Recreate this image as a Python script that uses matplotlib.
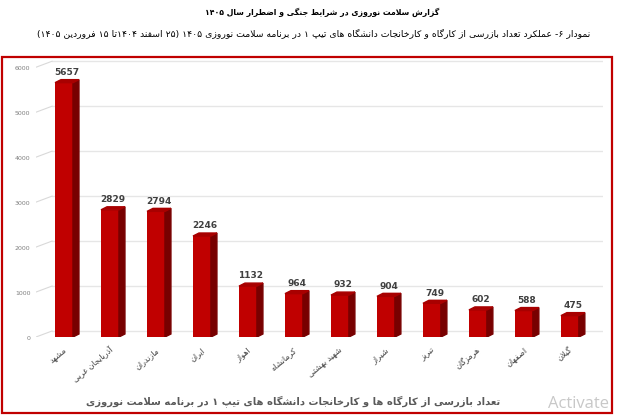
import matplotlib
matplotlib.use('Agg')
import matplotlib.pyplot as plt
from matplotlib.patches import Polygon, Rectangle

# data
cities = ['مشهد', 'آذربایجان غربی', 'مازندران', 'ایران', 'اهواز', 'کرمانشاه',
          'شهید بهشتی', 'شیراز', 'تبریز', 'هرمزگان', 'اصفهان', 'گیلان']
inspections = [5657, 2829, 2794, 2246, 1132, 964, 932, 904, 749, 602, 588, 475]
y_ticks = [0, 1000, 2000, 3000, 4000, 5000, 6000]

title = 'گزارش سلامت نوروزی در شرایط جنگی و اضطرار سال ۱۴۰۵'
subtitle = ('نمودار ۶- عملکرد تعداد بازرسی از کارگاه و کارخانجات دانشگاه های تیپ ۱ '
            'در برنامه سلامت نوروزی ۱۴۰۵ (۲۵ اسفند ۱۴۰۴تا ۱۵ فروردین ۱۴۰۵)')
caption = 'تعداد بازرسی از کارگاه ها و کارخانجات دانشگاه های تیپ ۱ در برنامه سلامت نوروزی'


# --- tiny persian shaper, matplotlib has no arabic shaping / bidi ---
# letter: (isolated, final, initial, medial)
FORMS = {
    'ا': ('\uFE8D', '\uFE8E', None, None),
    'آ': ('\uFE81', '\uFE82', None, None),
    'ب': ('\uFE8F', '\uFE90', '\uFE91', '\uFE92'),
    'پ': ('\uFB56', '\uFB57', '\uFB58', '\uFB59'),
    'ت': ('\uFE95', '\uFE96', '\uFE97', '\uFE98'),
    'ث': ('\uFE99', '\uFE9A', '\uFE9B', '\uFE9C'),
    'ج': ('\uFE9D', '\uFE9E', '\uFE9F', '\uFEA0'),
    'چ': ('\uFB7A', '\uFB7B', '\uFB7C', '\uFB7D'),
    'ح': ('\uFEA1', '\uFEA2', '\uFEA3', '\uFEA4'),
    'خ': ('\uFEA5', '\uFEA6', '\uFEA7', '\uFEA8'),
    'د': ('\uFEA9', '\uFEAA', None, None),
    'ذ': ('\uFEAB', '\uFEAC', None, None),
    'ر': ('\uFEAD', '\uFEAE', None, None),
    'ز': ('\uFEAF', '\uFEB0', None, None),
    'ژ': ('\uFB8A', '\uFB8B', None, None),
    'س': ('\uFEB1', '\uFEB2', '\uFEB3', '\uFEB4'),
    'ش': ('\uFEB5', '\uFEB6', '\uFEB7', '\uFEB8'),
    'ص': ('\uFEB9', '\uFEBA', '\uFEBB', '\uFEBC'),
    'ض': ('\uFEBD', '\uFEBE', '\uFEBF', '\uFEC0'),
    'ط': ('\uFEC1', '\uFEC2', '\uFEC3', '\uFEC4'),
    'ظ': ('\uFEC5', '\uFEC6', '\uFEC7', '\uFEC8'),
    'ع': ('\uFEC9', '\uFECA', '\uFECB', '\uFECC'),
    'غ': ('\uFECD', '\uFECE', '\uFECF', '\uFED0'),
    'ف': ('\uFED1', '\uFED2', '\uFED3', '\uFED4'),
    'ق': ('\uFED5', '\uFED6', '\uFED7', '\uFED8'),
    'ک': ('\uFB8E', '\uFB8F', '\uFB90', '\uFB91'),
    'گ': ('\uFB92', '\uFB93', '\uFB94', '\uFB95'),
    'ل': ('\uFEDD', '\uFEDE', '\uFEDF', '\uFEE0'),
    'م': ('\uFEE1', '\uFEE2', '\uFEE3', '\uFEE4'),
    'ن': ('\uFEE5', '\uFEE6', '\uFEE7', '\uFEE8'),
    'و': ('\uFEED', '\uFEEE', None, None),
    'ه': ('\uFEE9', '\uFEEA', '\uFEEB', '\uFEEC'),
    'ی': ('\uFBFC', '\uFBFD', '\uFBFE', '\uFBFF'),
}
LAM_ALEF = {'ا': ('\uFEFB', '\uFEFC'), 'آ': ('\uFEF5', '\uFEF6')}
LTR_CHARS = set('0123456789۰۱۲۳۴۵۶۷۸۹')
MIRROR = {'(': ')', ')': '('}


def shape(text):
    out = []
    i = 0
    n = len(text)
    while i < n:
        c = text[i]
        if c not in FORMS:
            out.append(c)
            i += 1
            continue
        prev = text[i - 1] if i > 0 else ''
        joins_prev = prev in FORMS and FORMS[prev][2] is not None
        nxt = text[i + 1] if i + 1 < n else ''
        if c == 'ل' and nxt in LAM_ALEF:
            out.append(LAM_ALEF[nxt][1 if joins_prev else 0])
            i += 2
            continue
        joins_next = nxt in FORMS and FORMS[c][2] is not None
        iso, fin, ini, med = FORMS[c]
        if joins_prev and joins_next:
            out.append(med)
        elif joins_prev:
            out.append(fin)
        elif joins_next:
            out.append(ini)
        else:
            out.append(iso)
        i += 1
    # visual order: reverse, but keep digit runs left to right
    runs = []
    for ch in out:
        if ch in LTR_CHARS and runs and runs[-1][0] in LTR_CHARS:
            runs[-1] += ch
        else:
            runs.append(MIRROR.get(ch, ch))
    return ''.join(reversed(runs))


plt.rcParams['font.family'] = ['DejaVu Sans']

fig = plt.figure(figsize=(6.23, 4.16), dpi=100)
ax = fig.add_axes([36 / 623, 79 / 416, 567 / 623, 281 / 416])
ax.set_xlim(-0.609, 11.72)
ax.set_ylim(0, 6250)
ax.axis('off')

x = list(range(len(cities)))
w = 0.39
side_dx, side_dy = 0.13, 67      # visible depth of the bars
wall_dx, wall_dy = 0.348, 133    # back wall offset of the 3d box
x0, x1 = ax.get_xlim()

for v in y_ticks:
    ax.plot([x0 + wall_dx, x1], [v + wall_dy, v + wall_dy], color='#e6e6e6', lw=1, zorder=1)
    ax.plot([x0, x0 + wall_dx], [v, v + wall_dy], color='#d9d9d9', lw=0.8, zorder=1)
    ax.annotate(str(v), (x0, v), xytext=(-4, -1), textcoords='offset points',
                ha='right', va='center', fontsize=4.5, color='#7f7f7f')

ax.bar(x, inspections, width=w, color='#c00000', zorder=3)
for i, v in zip(x, inspections):
    xr = i + w / 2
    xl = i - w / 2
    ax.add_patch(Polygon([(xr, 0), (xr + side_dx, side_dy), (xr + side_dx, v + side_dy), (xr, v)],
                         closed=True, color='#780000', zorder=3))
    ax.add_patch(Polygon([(xl, v), (xr, v), (xr + side_dx, v + side_dy), (xl + side_dx, v + side_dy)],
                         closed=True, color='#a80000', zorder=3))
    ax.annotate(str(v), (i + side_dx / 2, v + side_dy), xytext=(0, 2), textcoords='offset points',
                ha='center', va='bottom', fontsize=6.5, fontweight='bold', color='#404040')
    ax.annotate(shape(cities[i]), (i, 0), xytext=(-1, -6), textcoords='offset points',
                ha='right', va='top', rotation=40, rotation_mode='anchor',
                fontsize=5.8, color='#404040')

fig.text(322 / 623, 1 - 12 / 416, shape(title), ha='center', va='center',
         fontsize=5.6, fontweight='bold', color='black')
fig.text(314 / 623, 1 - 33 / 416, shape(subtitle), ha='center', va='center',
         fontsize=6.7, color='black')
fig.text(293 / 623, 15 / 416, shape(caption), ha='center', va='center',
         fontsize=7.2, fontweight='bold', color='#595959')

fig.patches.append(Rectangle((2 / 623, 3 / 416), 610 / 623, 356 / 416, transform=fig.transFigure,
                             fill=False, edgecolor='#c00000', lw=1.6))
fig.text(548 / 623, 12 / 416, 'Activate', ha='left', va='center', fontsize=12,
         color='#c8c8c8', family='Open Sans')

fig.savefig('out.png', dpi=100)
